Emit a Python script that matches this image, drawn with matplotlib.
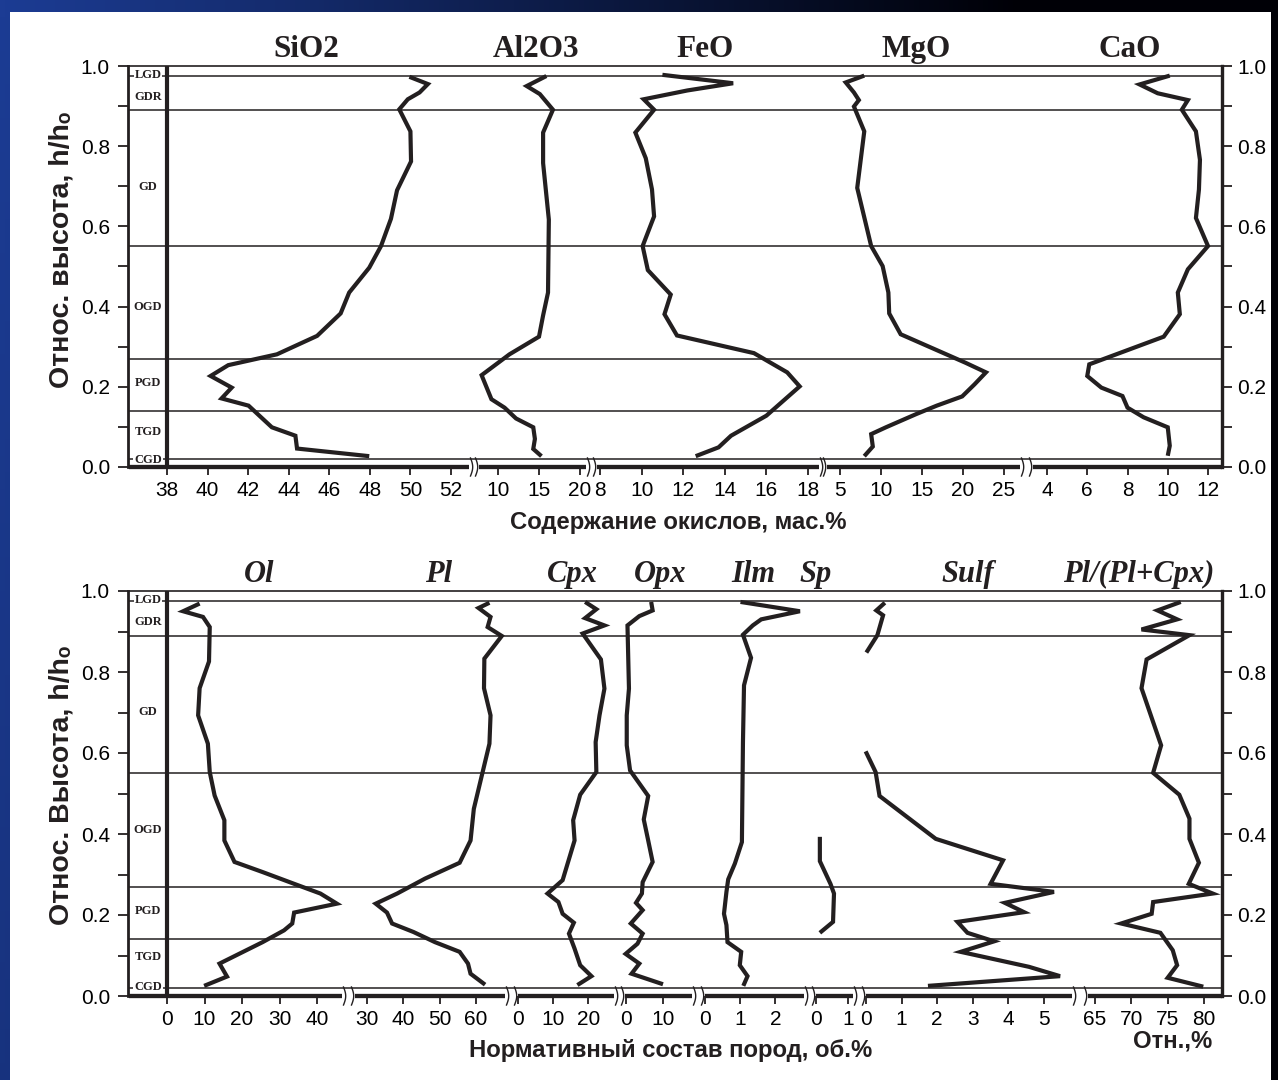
import numpy as np
import matplotlib
matplotlib.use('Agg')
import matplotlib.pyplot as plt
from matplotlib.lines import Line2D
from matplotlib.patches import Rectangle
from matplotlib.ticker import FormatStrFormatter

plt.rcParams['font.family'] = ['Liberation Sans', 'DejaVu Sans']

W, H = 1278, 1080

# ---------------- data ----------------
zone_names = ['LGD', 'GDR', 'GD', 'OGD', 'PGD', 'TGD', 'CGD']
zone_bounds = [0.976, 0.890, 0.551, 0.270, 0.140, 0.020]
zone_label_y_top = [0.978, 0.923, 0.698, 0.399, 0.209, 0.087, 0.017]
zone_label_y_bot = [0.978, 0.923, 0.701, 0.410, 0.210, 0.096, 0.022]

# top panel: oxides, wt.%
sio2_h = [0.973, 0.955, 0.934, 0.917, 0.892, 0.837, 0.762, 0.690, 0.619, 0.551, 0.497, 0.435,
          0.383, 0.327, 0.281, 0.254, 0.227, 0.198, 0.171, 0.153, 0.099, 0.078, 0.046, 0.027]
sio2 = [49.95, 50.86, 50.45, 49.87, 49.45, 50.0, 50.03, 49.34, 49.04, 48.55, 47.97, 46.98,
        46.56, 45.40, 43.42, 41.02, 40.15, 41.19, 40.69, 42.02, 43.17, 44.33, 44.41, 47.97]

al2o3_h = [0.975, 0.950, 0.930, 0.891, 0.834, 0.758, 0.617, 0.435, 0.378, 0.325, 0.281, 0.229,
           0.169, 0.148, 0.121, 0.099, 0.070, 0.045, 0.027]
al2o3 = [15.9, 13.5, 15.1, 16.7, 15.5, 15.5, 16.2, 16.1, 15.5, 15.0, 11.4, 8.0,
         9.2, 10.8, 12.2, 14.3, 14.5, 14.3, 15.3]

feo_h = [0.978, 0.957, 0.939, 0.917, 0.891, 0.834, 0.770, 0.692, 0.625, 0.551, 0.491, 0.430,
         0.381, 0.328, 0.284, 0.236, 0.201, 0.128, 0.078, 0.049, 0.027]
feo = [11.0, 14.4, 12.2, 10.1, 10.6, 9.7, 10.2, 10.5, 10.6, 10.05, 10.3, 11.4,
       11.1, 11.7, 15.4, 17.0, 17.6, 16.0, 14.3, 13.7, 12.6]

mgo_h = [0.976, 0.959, 0.934, 0.915, 0.899, 0.837, 0.696, 0.551, 0.501, 0.435, 0.383, 0.331,
         0.260, 0.236, 0.206, 0.176, 0.153, 0.132, 0.099, 0.082, 0.051, 0.027]
mgo = [7.96, 5.7, 6.7, 7.3, 6.7, 7.96, 7.1, 8.8, 10.2, 10.9, 11.0, 12.4,
       20.3, 22.8, 21.4, 19.9, 16.8, 14.3, 10.6, 8.8, 9.0, 7.96]

cao_h = [0.976, 0.954, 0.932, 0.915, 0.891, 0.837, 0.766, 0.692, 0.621, 0.551, 0.493, 0.435,
         0.381, 0.325, 0.256, 0.227, 0.198, 0.177, 0.148, 0.124, 0.099, 0.053, 0.028]
cao = [10.1, 8.6, 9.5, 11.0, 10.7, 11.4, 11.6, 11.55, 11.4, 12.0, 11.0, 10.5,
       10.6, 9.8, 6.1, 6.0, 6.7, 7.75, 8.0, 8.8, 10.0, 10.1, 10.0]

# bottom panel: normative composition, vol.%
ol_h = [0.969, 0.950, 0.936, 0.911, 0.826, 0.760, 0.693, 0.623, 0.553, 0.495, 0.434, 0.384,
        0.331, 0.306, 0.277, 0.253, 0.228, 0.206, 0.179, 0.162, 0.133, 0.080, 0.048, 0.025]
ol = [8.7, 4.3, 9.6, 11.4, 11.2, 8.7, 8.3, 10.9, 11.4, 12.7, 15.3, 15.3,
      18.0, 25.5, 33.9, 40.9, 45.3, 33.9, 33.4, 31.2, 25.5, 14.0, 16.0, 9.9]

pl_h = [0.971, 0.958, 0.936, 0.911, 0.889, 0.833, 0.760, 0.693, 0.623, 0.537, 0.462, 0.384,
        0.329, 0.290, 0.253, 0.228, 0.206, 0.179, 0.158, 0.133, 0.109, 0.080, 0.055, 0.028]
pl = [63.7, 60.7, 64.0, 63.2, 67.1, 62.3, 62.2, 64.0, 63.7, 61.4, 59.4, 58.5,
      55.5, 46.0, 38.3, 32.4, 35.5, 36.9, 42.8, 48.7, 55.5, 57.8, 58.5, 62.5]

cpx_h = [0.973, 0.955, 0.933, 0.915, 0.895, 0.831, 0.759, 0.693, 0.627, 0.553, 0.497, 0.434,
         0.384, 0.286, 0.253, 0.232, 0.203, 0.181, 0.154, 0.117, 0.076, 0.049, 0.027]
cpx = [19.1, 22.3, 19.1, 24.6, 18.4, 23.6, 24.6, 23.2, 22.1, 22.3, 17.7, 15.7,
       16.1, 12.7, 8.4, 11.5, 12.7, 15.9, 14.5, 16.1, 17.7, 20.9, 16.9]

opx_h = [0.973, 0.952, 0.938, 0.915, 0.759, 0.693, 0.619, 0.557, 0.494, 0.436, 0.384, 0.331,
         0.281, 0.253, 0.230, 0.212, 0.179, 0.154, 0.129, 0.104, 0.080, 0.055, 0.029]
opx = [6.8, 7.2, 3.6, 0.4, 0.8, 0.2, 0.2, 1.1, 6.0, 4.8, 6.0, 7.2,
       4.5, 4.3, 2.7, 4.5, 1.3, 4.5, 3.1, -0.1, 3.6, 1.5, 10.0]

ilm_h = [0.973, 0.950, 0.930, 0.915, 0.892, 0.835, 0.767, 0.627, 0.380, 0.327, 0.288, 0.257,
         0.203, 0.175, 0.133, 0.109, 0.076, 0.049, 0.025]
ilm = [1.01, 2.70, 1.60, 1.36, 1.08, 1.31, 1.11, 1.08, 1.05, 0.85, 0.66, 0.61,
       0.54, 0.61, 0.64, 1.03, 0.99, 1.21, 1.09]

sp_h = [0.393, 0.333, 0.277, 0.253, 0.183, 0.156]
sp = [0.12, 0.12, 0.45, 0.56, 0.53, 0.12]

sulf_up_h = [0.971, 0.952, 0.940, 0.891, 0.848]
sulf_up = [0.53, 0.29, 0.48, 0.32, 0.01]
sulf_lo_h = [0.604, 0.553, 0.494, 0.388, 0.335, 0.277, 0.257, 0.230, 0.207, 0.183, 0.156,
             0.135, 0.109, 0.072, 0.049, 0.025]
sulf_lo = [-0.01, 0.27, 0.38, 1.96, 3.85, 3.50, 5.28, 3.90, 4.44, 2.57, 2.85,
           3.60, 2.66, 4.58, 5.45, 1.74]

ratio_h = [0.973, 0.952, 0.930, 0.905, 0.891, 0.831, 0.760, 0.619, 0.551, 0.497, 0.438, 0.388,
           0.329, 0.277, 0.253, 0.232, 0.203, 0.179, 0.156, 0.113, 0.076, 0.045, 0.023]
ratio = [76.8, 73.6, 76.3, 71.4, 78.0, 72.1, 71.4, 74.1, 73.0, 76.6, 78.0, 78.0,
         79.3, 77.9, 81.2, 73.0, 72.8, 68.6, 74.0, 75.7, 76.3, 75.0, 79.9]

top_titles = ['SiO2', 'Al2O3', 'FeO', 'MgO', 'CaO']
bot_titles = ['Ol', 'Pl', 'Cpx', 'Opx', 'Ilm', 'Sp', 'Sulf', 'Pl/(Pl+Cpx)']

# ---------------- layout (pixel geometry) ----------------
INK = '#231f20'
fig = plt.figure(figsize=(W / 100, H / 100), dpi=100)

# background border with gradient
bg = fig.add_axes([0, 0, 1, 1], zorder=-10)
bg.set_axis_off()
gx = np.linspace(0, 1, 256)
gy = np.linspace(0, 1, 64)
GX, GY = np.meshgrid(gx, gy)
t = np.clip(GX * 1.25 + GY * 0.15, 0, 1)
c0 = np.array([0x1c, 0x3c, 0x94]) / 255.0
c1 = np.array([0x00, 0x00, 0x06]) / 255.0
img = c0[None, None, :] * (1 - t[..., None]) + c1[None, None, :] * t[..., None]
bg.imshow(img, aspect='auto', extent=[0, 1, 0, 1], origin='upper')
bg.add_patch(Rectangle((10 / W, 0), (1271 - 10) / W, (1080 - 12) / H,
                       transform=bg.transAxes, facecolor='white', edgecolor='none'))
bg.set_xlim(0, 1)
bg.set_ylim(0, 1)


def add_axes_px(x0, x1, ytop, ybot, **kw):
    return fig.add_axes([x0 / W, 1 - ybot / H, (x1 - x0) / W, (ybot - ytop) / H], **kw)


BOX_L, BOX_R, RIGHT = 128, 167, 1222
YMAJ = np.arange(0, 1.01, 0.2)
YMIN = np.arange(0.1, 1.0, 0.2)


def break_marks(gaps, yb):
    for g0, g1 in gaps:
        for xc in (g0 + 2.5, g1 - 2.5):
            tt = np.linspace(0, 1, 20)
            xs = xc + 2.2 * np.sin(np.pi * tt) - 1.0
            ys = yb - 9 + 18 * tt
            fig.add_artist(Line2D(xs / W, 1 - ys / H, color=INK, lw=1.0,
                                  transform=fig.transFigure))


def panel(ytop, ybot, segs, zone_ly, ylabel, ylabel_y, gaps):
    fr = add_axes_px(BOX_L, RIGHT, ytop, ybot)
    fr.set_xlim(BOX_L, RIGHT)
    fr.set_ylim(0, 1)
    fr.patch.set_alpha(0)
    fr.spines['bottom'].set_visible(False)
    fr.spines['left'].set_linewidth(2.0)
    fr.spines['right'].set_linewidth(2.3)
    fr.spines['top'].set_linewidth(1.2)
    for s in fr.spines.values():
        s.set_color(INK)
    fr.set_xticks([])
    fr.set_yticks(YMAJ)
    fr.set_yticks(YMIN, minor=True)
    fr.yaxis.set_major_formatter(FormatStrFormatter('%.1f'))
    fr.tick_params(axis='y', which='both', left=True, right=False, labelleft=True,
                   labelright=False, direction='out', length=7, width=1.3, color=INK,
                   labelsize=15, pad=6)
    sec = fr.secondary_yaxis('right')
    sec.set_yticks(YMAJ)
    sec.set_yticks(YMIN, minor=True)
    sec.yaxis.set_major_formatter(FormatStrFormatter('%.1f'))
    sec.tick_params(axis='y', which='both', direction='out', length=7, width=1.3,
                    color=INK, labelsize=15, pad=4)
    sec.spines['right'].set_linewidth(2.3)
    sec.spines['right'].set_color(INK)

    fr.hlines(zone_bounds, BOX_L, RIGHT, color=INK, lw=1.1)
    fr.vlines([BOX_R], 0, 1, color=INK, lw=3.0)
    for name, yv in zip(zone_names, zone_ly):
        fr.text((BOX_L + BOX_R) / 2 + 0.5, yv, name, ha='center', va='center',
                fontsize=9, fontweight='bold', family='Liberation Serif', color=INK,
                bbox=dict(facecolor='white', edgecolor='none', pad=0.6))
    fig.text(62 / W, 1 - ylabel_y / H, ylabel, rotation=90, ha='center', va='center',
             fontsize=20.5, fontweight='bold', color=INK,
             family=['Liberation Sans', 'DejaVu Sans'])

    for (x0, x1, cal, ticks, series) in segs:
        (va, pa), (vb, pb) = cal
        s = (pb - pa) / (vb - va)
        ax = add_axes_px(x0, x1, ytop, ybot)
        ax.set_xlim(va + (x0 - pa) / s, va + (x1 - pa) / s)
        ax.set_ylim(0, 1)
        ax.patch.set_alpha(0)
        for k in ('top', 'left', 'right'):
            ax.spines[k].set_visible(False)
        ax.spines['bottom'].set_linewidth(3.1)
        ax.spines['bottom'].set_color(INK)
        ax.spines['bottom'].set_capstyle('butt')
        ax.set_yticks([])
        ax.set_xticks(ticks)
        ax.set_xticklabels([str(v) for v in ticks])
        ax.tick_params(axis='x', direction='out', length=6, width=1.3, color=INK,
                       labelsize=15, pad=4)
        for xv, hv in series:
            ax.plot(xv, hv, color=INK, lw=3.0, clip_on=False, solid_joinstyle='miter',
                    solid_capstyle='butt')
    break_marks(gaps, ybot)


# top panel
T_TOP, T_BOT = 66, 467
top_segs = [
    (129, 469, ((38, 167), (52, 451)), [38, 40, 42, 44, 46, 48, 50, 52], [(sio2, sio2_h)]),
    (479, 586, ((10, 498), (20, 580)), [10, 15, 20], [(al2o3, al2o3_h)]),
    (597, 819, ((8, 600), (18, 808)), [8, 10, 12, 14, 16, 18], [(feo, feo_h)]),
    (827, 1020, ((5, 840), (25, 1004)), [5, 10, 15, 20, 25], [(mgo, mgo_h)]),
    (1033, 1222, ((4, 1047), (12, 1208)), [4, 6, 8, 10, 12], [(cao, cao_h)]),
]
panel(T_TOP, T_BOT, top_segs, zone_label_y_top, 'Относ. высота, h/hₒ', 250,
      [(469, 479), (586, 597), (819, 827), (1020, 1033)])

# bottom panel
B_TOP, B_BOT = 591, 996
bot_segs = [
    (129, 342, ((0, 167), (40, 317)), [0, 10, 20, 30, 40], [(ol, ol_h)]),
    (355, 505, ((30, 367), (60, 476)), [30, 40, 50, 60], [(pl, pl_h)]),
    (518, 614, ((0, 517), (20, 588)), [0, 10, 20], [(cpx, cpx_h)]),
    (625, 692, ((0, 626), (10, 663)), [0, 10], [(opx, opx_h)]),
    (705, 804, ((0, 704), (2, 775)), [0, 1, 2], [(ilm, ilm_h)]),
    (816, 853, ((0, 815), (1, 848)), [0, 1], [(sp, sp_h)]),
    (866, 1072, ((0, 866), (5, 1044)), [0, 1, 2, 3, 4, 5], [(sulf_up, sulf_up_h), (sulf_lo, sulf_lo_h)]),
    (1088, 1222, ((65, 1095), (80, 1204)), [65, 70, 75, 80], [(ratio, ratio_h)]),
]
panel(B_TOP, B_BOT, bot_segs, zone_label_y_bot, 'Относ. Высота, h/hₒ', 785,
      [(342, 355), (505, 518), (614, 625), (692, 705), (804, 816), (853, 866), (1072, 1088)])

# titles
top_title_x = [306, 536, 705, 916, 1130]
for name, x in zip(top_titles, top_title_x):
    fig.text(x / W, 1 - 57 / H, name, ha='center', va='baseline', fontsize=22.5,
             fontweight='bold', family='Liberation Serif', color=INK)
bot_title_x = [259, 439, 572, 660, 753, 816, 968, 1139]
for name, x in zip(bot_titles, bot_title_x):
    fig.text(x / W, 1 - 582 / H, name, ha='center', va='baseline', fontsize=22,
             fontweight='bold', style='italic', family='Liberation Serif', color=INK)

# axis titles
fig.text(678 / W, 1 - 522 / H, 'Содержание окислов, мас.%', ha='center', va='center',
         fontsize=17.2, fontweight='bold', color=INK)
fig.text(671 / W, 1 - 1051 / H, 'Нормативный состав пород, об.%', ha='center', va='center',
         fontsize=17.2, fontweight='bold', color=INK)
fig.text(1173 / W, 1 - 1041 / H, 'Отн.,%', ha='center', va='center',
         fontsize=17.2, fontweight='bold', color=INK)

fig.savefig('out.png', dpi=100)
